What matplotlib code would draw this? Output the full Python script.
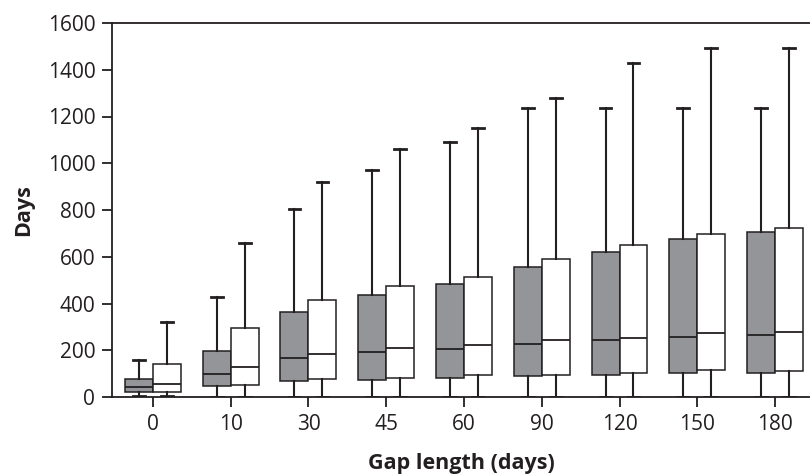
import matplotlib
matplotlib.use("Agg")
import matplotlib.pyplot as plt

plt.rcParams['font.family'] = ['Open Sans', 'DejaVu Sans']

gap_lengths = ["0", "10", "30", "45", "60", "90", "120", "150", "180"]

# grey series: lower whisker, Q1, median, Q3, upper whisker
grey_low = [5, 0, 0, 0, 0, 0, 0, 0, 0]
grey_q1 = [20, 46, 67, 71, 81, 91, 95, 102, 104]
grey_med = [43, 99, 166, 191, 205, 227, 242, 255, 267]
grey_q3 = [75, 198, 364, 437, 483, 558, 620, 677, 707]
grey_high = [158, 427, 805, 971, 1089, 1237, 1237, 1237, 1237]

# white series
white_low = [3, 0, 0, 0, 0, 0, 0, 0, 0]
white_q1 = [23, 52, 77, 82, 94, 95, 104, 114, 111]
white_med = [57, 129, 186, 208, 223, 243, 253, 273, 279]
white_q3 = [141, 297, 413, 474, 515, 589, 650, 698, 725]
white_high = [319, 657, 920, 1061, 1149, 1281, 1429, 1495, 1493]

ink = "#231f20"
grey_fill = "#939598"


def stats(low, q1, med, q3, high):
    return [dict(whislo=a, q1=b, med=c, q3=d, whishi=e, fliers=[])
            for a, b, c, d, e in zip(low, q1, med, q3, high)]


fig = plt.figure(figsize=(8.1, 4.75), dpi=100)
ax = fig.add_axes([112 / 810, 1 - 397 / 475, 1 - 112 / 810, 374 / 475])

centers = list(range(len(gap_lengths)))
half = 0.18
for series, fill, offset in [
    (stats(grey_low, grey_q1, grey_med, grey_q3, grey_high), grey_fill, -half),
    (stats(white_low, white_q1, white_med, white_q3, white_high), "white", half),
]:
    ax.bxp(series, positions=[c + offset for c in centers], widths=2 * half,
           capwidths=0.15, patch_artist=True, showfliers=False,
           boxprops=dict(facecolor=fill, edgecolor=ink, linewidth=1.1),
           medianprops=dict(color=ink, linewidth=1.3),
           whiskerprops=dict(color=ink, linewidth=1.5),
           capprops=dict(color=ink, linewidth=2.0),
           manage_ticks=False, zorder=3)

ax.set_xlim(-0.527, 8.45)
ax.set_ylim(0, 1600)
ax.set_xticks(centers)
ax.set_xticklabels(gap_lengths)
ax.set_yticks(range(0, 1601, 200))

ax.spines['right'].set_visible(False)
for s in ['left', 'bottom', 'top']:
    ax.spines[s].set_color(ink)
    ax.spines[s].set_linewidth(1.3)
ax.tick_params(axis='both', direction='out', length=7, width=1.3, color=ink,
               labelsize=15, labelcolor=ink, pad=5)

ax.set_ylabel("Days", fontsize=15.5, fontweight='bold', color=ink, labelpad=10)
ax.set_xlabel("Gap length (days)", fontsize=15.5, fontweight='bold', color=ink, labelpad=13)

fig.savefig("out.png", dpi=100)
